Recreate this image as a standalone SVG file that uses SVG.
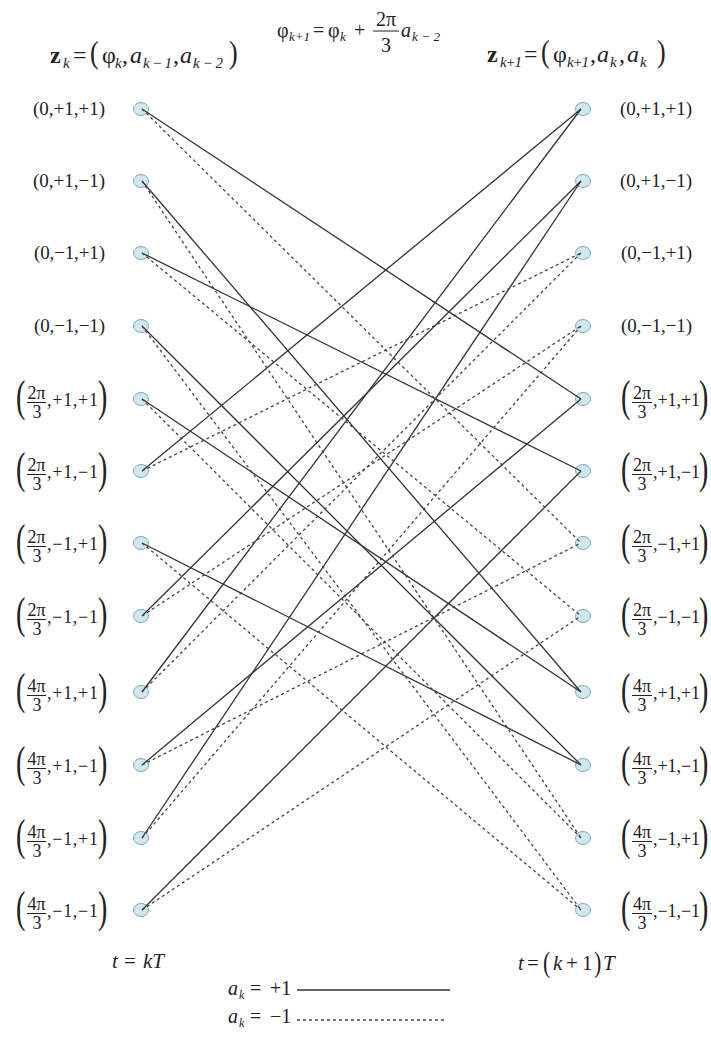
<svg xmlns="http://www.w3.org/2000/svg" width="711" height="1039" viewBox="0 0 711 1039" font-family="'Liberation Serif','Times New Roman',serif">
<style>
text{font-family:"Liberation Serif","Times New Roman",serif;fill:#222}
.lb{font-size:19px}
.fr{font-size:18px}
.big{font-size:28px}
.h{font-size:24px}
.hb{font-size:26px}
.sub{font-size:15px;font-style:italic}
.it{font-style:italic}
.nd{fill:#cfe8f1;stroke:#7fa9b7;stroke-width:1}
.bar{stroke:#222;stroke-width:1}
.s{stroke:#333;stroke-width:1.3;fill:none}
.d{stroke:#444;stroke-width:1.3;fill:none;stroke-dasharray:3 3}
</style>

<g id="header">
  <text class="h" x="50" y="63" font-weight="bold">z</text>
  <text class="sub" x="63" y="68">k</text>
  <text class="h" x="73" y="63">=</text>
  <text class="hb" transform="translate(90,63) scale(1,1.25)">(</text>
  <text class="h" x="102" y="63">φ</text>
  <text class="sub" x="115" y="68">k</text>
  <text class="h" x="122" y="63">,</text>
  <text class="h it" x="130" y="63">a</text>
  <text class="sub" x="143" y="68" textLength="29">k−1</text>
  <text class="h" x="173" y="63">,</text>
  <text class="h it" x="180" y="63">a</text>
  <text class="sub" x="193" y="68" textLength="30">k−2</text>
  <text class="hb" transform="translate(229,63) scale(1,1.25)">)</text>

  <text x="277" y="37" style="font-size:20px">φ</text>
  <text class="sub" x="289" y="41" style="font-size:13px" textLength="21">k+1</text>
  <text x="313" y="37" style="font-size:20px">=</text>
  <text x="328" y="37" style="font-size:20px">φ</text>
  <text class="sub" x="340" y="41" style="font-size:13px">k</text>
  <text x="354" y="37" style="font-size:20px">+</text>
  <text x="386" y="26" text-anchor="middle" style="font-size:20px">2π</text>
  <line class="bar" x1="373" y1="31" x2="399" y2="31"/>
  <text x="386" y="52" text-anchor="middle" style="font-size:20px">3</text>
  <text class="it" x="401" y="37" style="font-size:20px">a</text>
  <text class="sub" x="412" y="41" style="font-size:13px" textLength="28">k−2</text>

  <text class="h" x="487" y="62" font-weight="bold">z</text>
  <text class="sub" x="500" y="67" textLength="22">k+1</text>
  <text class="h" x="524" y="62">=</text>
  <text class="hb" transform="translate(541,62) scale(1,1.25)">(</text>
  <text class="h" x="553" y="62">φ</text>
  <text class="sub" x="567" y="67" textLength="22">k+1</text>
  <text class="h" x="590" y="62">,</text>
  <text class="h it" x="597" y="62">a</text>
  <text class="sub" x="610" y="67">k</text>
  <text class="h" x="619" y="62">,</text>
  <text class="h it" x="627" y="62">a</text>
  <text class="sub" x="640" y="67">k</text>
  <text class="hb" transform="translate(657,62) scale(1,1.25)">)</text>
</g>

<g id="L0"><ellipse class="nd" cx="141" cy="109" rx="7.5" ry="6.5"/><text class="lb" x="33" y="115" textLength="72">(0,+1,+1)</text></g>
<g id="L1"><ellipse class="nd" cx="141" cy="181" rx="7.5" ry="6.5"/><text class="lb" x="33" y="187" textLength="72">(0,+1,−1)</text></g>
<g id="L2"><ellipse class="nd" cx="141" cy="253" rx="7.5" ry="6.5"/><text class="lb" x="34" y="259" textLength="71">(0,−1,+1)</text></g>
<g id="L3"><ellipse class="nd" cx="141" cy="326" rx="7.5" ry="6.5"/><text class="lb" x="34" y="332" textLength="71">(0,−1,−1)</text></g>

<g id="L4"><ellipse class="nd" cx="141" cy="399" rx="7.5" ry="6.5"/>
<text class="big" transform="translate(16,411) scale(1,1.57)">(</text>
<text class="fr" x="36.5" y="399" text-anchor="middle">2π</text><line class="bar" x1="27" y1="402.5" x2="46" y2="402.5"/>
<text class="fr" x="37" y="418" text-anchor="middle">3</text>
<text class="fr" x="47" y="405.5" textLength="51">,+1,+1</text>
<text class="big" transform="translate(98,411) scale(1,1.57)">)</text></g>
<g id="L5"><ellipse class="nd" cx="141" cy="471" rx="7.5" ry="6.5"/>
<text class="big" transform="translate(16,483) scale(1,1.57)">(</text>
<text class="fr" x="36.5" y="471" text-anchor="middle">2π</text><line class="bar" x1="27" y1="474.5" x2="46" y2="474.5"/>
<text class="fr" x="37" y="490" text-anchor="middle">3</text>
<text class="fr" x="47" y="477.5" textLength="51">,+1,−1</text>
<text class="big" transform="translate(98,483) scale(1,1.57)">)</text></g>
<g id="L6"><ellipse class="nd" cx="141" cy="543" rx="7.5" ry="6.5"/>
<text class="big" transform="translate(16,555) scale(1,1.57)">(</text>
<text class="fr" x="36.5" y="543" text-anchor="middle">2π</text><line class="bar" x1="27" y1="546.5" x2="46" y2="546.5"/>
<text class="fr" x="37" y="562" text-anchor="middle">3</text>
<text class="fr" x="47" y="549.5" textLength="51">,−1,+1</text>
<text class="big" transform="translate(98,555) scale(1,1.57)">)</text></g>
<g id="L7"><ellipse class="nd" cx="141" cy="616" rx="7.5" ry="6.5"/>
<text class="big" transform="translate(16,628) scale(1,1.57)">(</text>
<text class="fr" x="36.5" y="616" text-anchor="middle">2π</text><line class="bar" x1="27" y1="619.5" x2="46" y2="619.5"/>
<text class="fr" x="37" y="635" text-anchor="middle">3</text>
<text class="fr" x="47" y="622.5" textLength="51">,−1,−1</text>
<text class="big" transform="translate(98,628) scale(1,1.57)">)</text></g>
<g id="L8"><ellipse class="nd" cx="141" cy="692" rx="7.5" ry="6.5"/>
<text class="big" transform="translate(16,704) scale(1,1.57)">(</text>
<text class="fr" x="36.5" y="692" text-anchor="middle">4π</text><line class="bar" x1="27" y1="695.5" x2="46" y2="695.5"/>
<text class="fr" x="37" y="711" text-anchor="middle">3</text>
<text class="fr" x="47" y="698.5" textLength="51">,+1,+1</text>
<text class="big" transform="translate(98,704) scale(1,1.57)">)</text></g>
<g id="L9"><ellipse class="nd" cx="141" cy="765" rx="7.5" ry="6.5"/>
<text class="big" transform="translate(16,777) scale(1,1.57)">(</text>
<text class="fr" x="36.5" y="765" text-anchor="middle">4π</text><line class="bar" x1="27" y1="768.5" x2="46" y2="768.5"/>
<text class="fr" x="37" y="784" text-anchor="middle">3</text>
<text class="fr" x="47" y="771.5" textLength="51">,+1,−1</text>
<text class="big" transform="translate(98,777) scale(1,1.57)">)</text></g>
<g id="L10"><ellipse class="nd" cx="141" cy="838" rx="7.5" ry="6.5"/>
<text class="big" transform="translate(16,850) scale(1,1.57)">(</text>
<text class="fr" x="36.5" y="838" text-anchor="middle">4π</text><line class="bar" x1="27" y1="841.5" x2="46" y2="841.5"/>
<text class="fr" x="37" y="857" text-anchor="middle">3</text>
<text class="fr" x="47" y="844.5" textLength="51">,−1,+1</text>
<text class="big" transform="translate(98,850) scale(1,1.57)">)</text></g>
<g id="L11"><ellipse class="nd" cx="141" cy="910" rx="7.5" ry="6.5"/>
<text class="big" transform="translate(16,922) scale(1,1.57)">(</text>
<text class="fr" x="36.5" y="910" text-anchor="middle">4π</text><line class="bar" x1="27" y1="913.5" x2="46" y2="913.5"/>
<text class="fr" x="37" y="929" text-anchor="middle">3</text>
<text class="fr" x="47" y="916.5" textLength="51">,−1,−1</text>
<text class="big" transform="translate(98,922) scale(1,1.57)">)</text></g>

<g id="R0"><ellipse class="nd" cx="583" cy="109" rx="7.5" ry="6.5"/><text class="lb" x="620" y="115" textLength="72">(0,+1,+1)</text></g>
<g id="R1"><ellipse class="nd" cx="583" cy="181" rx="7.5" ry="6.5"/><text class="lb" x="620" y="187" textLength="72">(0,+1,−1)</text></g>
<g id="R2"><ellipse class="nd" cx="583" cy="253" rx="7.5" ry="6.5"/><text class="lb" x="621" y="259" textLength="71">(0,−1,+1)</text></g>
<g id="R3"><ellipse class="nd" cx="583" cy="326" rx="7.5" ry="6.5"/><text class="lb" x="621" y="332" textLength="71">(0,−1,−1)</text></g>

<g id="R4"><ellipse class="nd" cx="583" cy="399" rx="7.5" ry="6.5"/>
<text class="big" transform="translate(621,411) scale(1,1.57)">(</text>
<text class="fr" x="642" y="399" text-anchor="middle">2π</text><line class="bar" x1="632" y1="402.5" x2="652" y2="402.5"/>
<text class="fr" x="642" y="418" text-anchor="middle">3</text>
<text class="fr" x="653" y="405.5" textLength="47">,+1,+1</text>
<text class="big" transform="translate(699,411) scale(1,1.57)">)</text></g>
<g id="R5"><ellipse class="nd" cx="583" cy="471" rx="7.5" ry="6.5"/>
<text class="big" transform="translate(621,483) scale(1,1.57)">(</text>
<text class="fr" x="642" y="471" text-anchor="middle">2π</text><line class="bar" x1="632" y1="474.5" x2="652" y2="474.5"/>
<text class="fr" x="642" y="490" text-anchor="middle">3</text>
<text class="fr" x="653" y="477.5" textLength="47">,+1,−1</text>
<text class="big" transform="translate(699,483) scale(1,1.57)">)</text></g>
<g id="R6"><ellipse class="nd" cx="583" cy="543" rx="7.5" ry="6.5"/>
<text class="big" transform="translate(621,555) scale(1,1.57)">(</text>
<text class="fr" x="642" y="543" text-anchor="middle">2π</text><line class="bar" x1="632" y1="546.5" x2="652" y2="546.5"/>
<text class="fr" x="642" y="562" text-anchor="middle">3</text>
<text class="fr" x="653" y="549.5" textLength="47">,−1,+1</text>
<text class="big" transform="translate(699,555) scale(1,1.57)">)</text></g>
<g id="R7"><ellipse class="nd" cx="583" cy="616" rx="7.5" ry="6.5"/>
<text class="big" transform="translate(621,628) scale(1,1.57)">(</text>
<text class="fr" x="642" y="616" text-anchor="middle">2π</text><line class="bar" x1="632" y1="619.5" x2="652" y2="619.5"/>
<text class="fr" x="642" y="635" text-anchor="middle">3</text>
<text class="fr" x="653" y="622.5" textLength="47">,−1,−1</text>
<text class="big" transform="translate(699,628) scale(1,1.57)">)</text></g>
<g id="R8"><ellipse class="nd" cx="583" cy="692" rx="7.5" ry="6.5"/>
<text class="big" transform="translate(621,704) scale(1,1.57)">(</text>
<text class="fr" x="642" y="692" text-anchor="middle">4π</text><line class="bar" x1="632" y1="695.5" x2="652" y2="695.5"/>
<text class="fr" x="642" y="711" text-anchor="middle">3</text>
<text class="fr" x="653" y="698.5" textLength="47">,+1,+1</text>
<text class="big" transform="translate(699,704) scale(1,1.57)">)</text></g>
<g id="R9"><ellipse class="nd" cx="583" cy="765" rx="7.5" ry="6.5"/>
<text class="big" transform="translate(621,777) scale(1,1.57)">(</text>
<text class="fr" x="642" y="765" text-anchor="middle">4π</text><line class="bar" x1="632" y1="768.5" x2="652" y2="768.5"/>
<text class="fr" x="642" y="784" text-anchor="middle">3</text>
<text class="fr" x="653" y="771.5" textLength="47">,+1,−1</text>
<text class="big" transform="translate(699,777) scale(1,1.57)">)</text></g>
<g id="R10"><ellipse class="nd" cx="583" cy="838" rx="7.5" ry="6.5"/>
<text class="big" transform="translate(621,850) scale(1,1.57)">(</text>
<text class="fr" x="642" y="838" text-anchor="middle">4π</text><line class="bar" x1="632" y1="841.5" x2="652" y2="841.5"/>
<text class="fr" x="642" y="857" text-anchor="middle">3</text>
<text class="fr" x="653" y="844.5" textLength="47">,−1,+1</text>
<text class="big" transform="translate(699,850) scale(1,1.57)">)</text></g>
<g id="R11"><ellipse class="nd" cx="583" cy="910" rx="7.5" ry="6.5"/>
<text class="big" transform="translate(621,922) scale(1,1.57)">(</text>
<text class="fr" x="642" y="910" text-anchor="middle">4π</text><line class="bar" x1="632" y1="913.5" x2="652" y2="913.5"/>
<text class="fr" x="642" y="929" text-anchor="middle">3</text>
<text class="fr" x="653" y="916.5" textLength="47">,−1,−1</text>
<text class="big" transform="translate(699,922) scale(1,1.57)">)</text></g>

<g id="connectors">
  <line class="s" x1="142" y1="109" x2="581" y2="399"/>
  <line class="s" x1="142" y1="181" x2="581" y2="692"/>
  <line class="s" x1="142" y1="253" x2="581" y2="471"/>
  <line class="s" x1="142" y1="326" x2="581" y2="765"/>
  <line class="s" x1="142" y1="399" x2="581" y2="692"/>
  <line class="s" x1="142" y1="471" x2="581" y2="109"/>
  <line class="s" x1="142" y1="543" x2="581" y2="765"/>
  <line class="s" x1="142" y1="616" x2="581" y2="181"/>
  <line class="s" x1="142" y1="692" x2="581" y2="109"/>
  <line class="s" x1="142" y1="765" x2="581" y2="399"/>
  <line class="s" x1="142" y1="838" x2="581" y2="181"/>
  <line class="s" x1="142" y1="910" x2="581" y2="471"/>
  <line class="d" x1="142" y1="109" x2="581" y2="543"/>
  <line class="d" x1="142" y1="181" x2="581" y2="838"/>
  <line class="d" x1="142" y1="253" x2="581" y2="616"/>
  <line class="d" x1="142" y1="326" x2="581" y2="910"/>
  <line class="d" x1="142" y1="399" x2="581" y2="838"/>
  <line class="d" x1="142" y1="471" x2="581" y2="253"/>
  <line class="d" x1="142" y1="543" x2="581" y2="910"/>
  <line class="d" x1="142" y1="616" x2="581" y2="326"/>
  <line class="d" x1="142" y1="692" x2="581" y2="253"/>
  <line class="d" x1="142" y1="765" x2="581" y2="543"/>
  <line class="d" x1="142" y1="838" x2="581" y2="326"/>
  <line class="d" x1="142" y1="910" x2="581" y2="616"/>
</g>

<g id="time-left">
  <text class="it" x="112" y="968" style="font-size:21px">t</text>
  <text x="124" y="968" style="font-size:21px">=</text>
  <text class="it" x="143" y="968" style="font-size:21px">kT</text>
</g>
<g id="time-right">
  <text class="it" x="518" y="970" style="font-size:21px">t</text>
  <text x="527" y="970" style="font-size:21px">=</text>
  <text transform="translate(543,972) scale(1,1.3)" style="font-size:22px">(</text>
  <text class="it" x="553" y="970" style="font-size:21px">k</text>
  <text x="566" y="970" style="font-size:21px">+</text>
  <text x="582" y="970" style="font-size:21px">1</text>
  <text transform="translate(594,972) scale(1,1.3)" style="font-size:22px">)</text>
  <text class="it" x="603" y="970" style="font-size:21px">T</text>
</g>

<g id="legend">
  <text class="it" x="228" y="995" style="font-size:20px">a</text>
  <text class="it" x="239" y="999" style="font-size:12px">k</text>
  <text x="250" y="995" style="font-size:20px">=</text>
  <text x="270" y="995" style="font-size:20px">+1</text>
  <line class="s" x1="297" y1="990" x2="450" y2="990"/>
  <text class="it" x="228" y="1023" style="font-size:20px">a</text>
  <text class="it" x="239" y="1027" style="font-size:12px">k</text>
  <text x="250" y="1023" style="font-size:20px">=</text>
  <text x="270" y="1023" style="font-size:20px">−1</text>
  <line class="d" x1="297" y1="1020" x2="447" y2="1020"/>
</g>
</svg>
